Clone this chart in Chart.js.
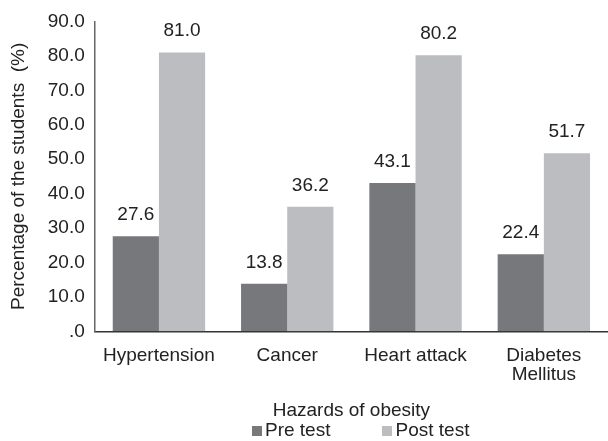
<!DOCTYPE html>
<html>
<head>
<meta charset="utf-8">
<script src="https://cdn.jsdelivr.net/npm/chart.js@4/dist/chart.umd.min.js"></script>
<style>
  html, body { margin: 0; padding: 0; background: #fff; }
  #wrap { position: relative; width: 608px; height: 441px; }
  #legend {
    position: absolute; left: 252px; top: 419px; white-space: nowrap;
    font: 19px/22px "Liberation Sans", Arial, sans-serif; color: #222;
  }
  #legend span { margin-right: 52px; }
  #legend i { display: inline-block; width: 10px; height: 10px; margin-right: 3px; vertical-align: baseline; }
</style>
</head>
<body>
<div id="wrap">
  <canvas id="c" width="608" height="441"></canvas>
  <div id="legend"></div>
</div>
<script>
  const categories = ['Hypertension', 'Cancer', 'Heart attack', ['Diabetes', 'Mellitus']];
  const preTest  = [27.6, 13.8, 43.1, 22.4];
  const postTest = [81.0, 36.2, 80.2, 51.7];
  const seriesNames = ['Pre test', 'Post test'];
  const colors = ['#77787b', '#bcbdc0'];

  const FONT = "'Liberation Sans', Arial, sans-serif";
  const FS = 19;
  Chart.defaults.font.family = FONT;
  Chart.defaults.font.size = FS;
  Chart.defaults.color = '#222';

  // value labels printed above each bar
  const valueLabels = {
    id: 'valueLabels',
    afterDatasetsDraw(chart) {
      const ctx = chart.ctx;
      ctx.save();
      ctx.font = FS + 'px ' + FONT;
      ctx.fillStyle = '#222';
      ctx.textAlign = 'center';
      ctx.textBaseline = 'alphabetic';
      chart.data.datasets.forEach((ds, i) => {
        chart.getDatasetMeta(i).data.forEach((bar, j) => {
          ctx.fillText(ds.data[j].toFixed(1), bar.x, bar.y - 16);
        });
      });
      ctx.restore();
    }
  };

  new Chart(document.getElementById('c'), {
    type: 'bar',
    data: {
      labels: categories,
      datasets: [
        { label: seriesNames[0], data: preTest,  backgroundColor: colors[0] },
        { label: seriesNames[1], data: postTest, backgroundColor: colors[1] },
      ],
    },
    options: {
      responsive: false,
      animation: false,
      categoryPercentage: 0.72,
      barPercentage: 1,
      layout: { padding: { top: 15, right: 0, bottom: 15, left: 3 } },
      plugins: { legend: { display: false }, tooltip: { enabled: false } },
      scales: {
        x: {
          grid: { display: false, drawTicks: false },
          border: { color: '#333', width: 1.5 },
          ticks: { color: '#222', padding: 14, font: { size: FS, lineHeight: 1.05 } },
          title: { display: true, text: 'Hazards of obesity', color: '#222', font: { size: FS }, padding: { top: 0 } },
        },
        y: {
          min: 0, max: 90,
          grid: { display: false, drawTicks: false },
          border: { color: '#666', width: 1.5 },
          ticks: {
            stepSize: 10, color: '#222', padding: 10, font: { size: FS },
            callback: v => v === 0 ? '.0' : v.toFixed(1),
          },
          title: { display: true, text: 'Percentage of the students  (%)', color: '#222', font: { size: FS }, padding: { bottom: 8 } },
        },
      },
    },
    plugins: [valueLabels],
  });

  document.getElementById('legend').innerHTML = seriesNames
    .map((n, i) => `<span><i style="background:${colors[i]}"></i>${n}</span>`).join('');
</script>
</body>
</html>
